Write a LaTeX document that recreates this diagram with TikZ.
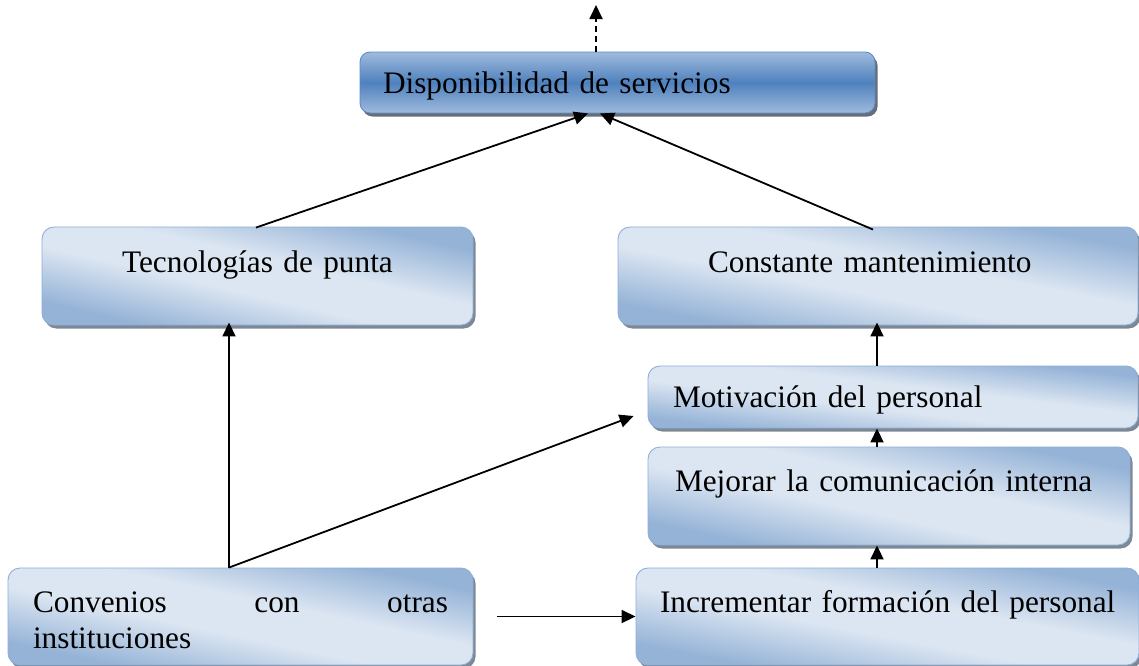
\documentclass[tikz,border=0pt]{standalone}
\usepackage{fontspec}
\setmainfont{Liberation Serif}
\usetikzlibrary{arrows.meta,shadows,calc}
\definecolor{boxdark}{HTML}{95B3D7}
\definecolor{boxlight}{HTML}{DCE6F2}
\definecolor{boxline}{HTML}{8FAED6}
\definecolor{dispmid}{HTML}{4F81BD}
\definecolor{displight}{HTML}{9FBADD}
\definecolor{displine}{HTML}{5E8BC4}
\definecolor{shadowgray}{HTML}{7D8896}
\pgfdeclareverticalshading{lightshade}{100bp}{color(0bp)=(boxdark); color(27bp)=(boxdark); color(44bp)=(boxlight); color(56bp)=(boxlight); color(73bp)=(boxdark); color(100bp)=(boxdark)}
\tikzset{
  lightbox/.style={draw=boxline, line width=0.9pt, rounded corners=12pt,
    shade, shading=lightshade, shading angle=-11,
    drop shadow={shadow xshift=2.5pt, shadow yshift=-3.5pt, fill=shadowgray, opacity=1},
    font=\fontsize{31.3}{35.6}\selectfont, inner ysep=0pt},
  darkbox/.style={draw=displine, line width=0.9pt, rounded corners=10pt,
    top color=displight, bottom color=displight, middle color=dispmid,
    drop shadow={shadow xshift=2.5pt, shadow yshift=-3.5pt, fill=shadowgray!80!black, opacity=1},
    font=\fontsize{31.3}{35.6}\selectfont, inner ysep=0pt},
  conn/.style={line width=1.8pt, -{Triangle[length=14pt,width=13pt]}},
  dconn/.style={conn, dash pattern=on 6pt off 4pt},
}
\begin{document}
\begin{tikzpicture}[x=1pt,y=-1pt]
\useasboundingbox (0,0) rectangle (1139,665);

\node[darkbox, minimum width=515pt, minimum height=61pt, inner xsep=23pt, text width=469pt,
  align=left, text height=27pt, text depth=6pt] (disp) at (617.5,82.5) {Disponibilidad de servicios};

\node[lightbox, shading angle=-13, minimum width=431pt, minimum height=98pt, inner xsep=20pt, text width=391pt,
  align=center, text height=22.6pt, text depth=30pt] (tecn) at (257.5,276) {Tecnologías de punta};

\node[lightbox, minimum width=520pt, minimum height=98pt, inner xsep=90pt, text width=340pt,
  align=left, text height=22.6pt, text depth=30pt] (const) at (878,276) {\mbox{Constante mantenimiento}};

\node[lightbox, shading angle=-7, minimum width=490pt, minimum height=62pt, inner xsep=25pt, text width=440pt,
  align=left, text height=27.4pt, text depth=6pt] (motiv) at (893,397) {\mbox{Motivación del personal}};

\node[lightbox, shading angle=-12, minimum width=482pt, minimum height=98pt, inner xsep=27pt, text width=428pt,
  align=left, text height=21.4pt, text depth=30pt] (mej) at (889,496) {\mbox{Mejorar la comunicación interna}};

\node[lightbox, shading angle=-12, minimum width=465pt, minimum height=97pt, inner xsep=25pt, text width=415pt,
  align=justify, text height=22.4pt, text depth=30pt] (conv) at (240.5,616.5) {Convenios con otras\linebreak instituciones};

\node[lightbox, minimum width=503pt, minimum height=97pt, inner xsep=24pt, text width=455pt,
  align=left, text height=22.4pt, text depth=30pt] (incr) at (887.5,616.5) {\mbox{Incrementar formación del personal}};

\coordinate (top) at (596,5);

\draw[dconn] ($(disp.north)+(-21.5,0)$) -- (top);
\draw[conn] ($(tecn.north)+(-1.5,1)$) -- ($(disp.south)+(-29.5,0)$);
\draw[conn] ($(const.north)+(-5,3)$) -- ($(disp.south)+(-17.5,0)$);
\draw[conn] ($(conv.north)+(-11.5,0)$) -- ($(tecn.south)+(-28.5,-3)$);
\draw[conn] ($(conv.north)+(-11.5,0)$) -- ($(motiv.west)+(-14,19)$);
\draw[conn] ($(conv.east)+(24,0)$) -- (incr.west);
\draw[conn] ($(incr.north)+(-10.5,0)$) -- ($(mej.south)+(-12,0)$);
\draw[conn] ($(mej.north)+(-12,0)$) -- ($(motiv.south)+(-16,0)$);
\draw[conn] ($(motiv.north)+(-16,0)$) -- ($(const.south)+(-1,-3)$);
\end{tikzpicture}
\end{document}
